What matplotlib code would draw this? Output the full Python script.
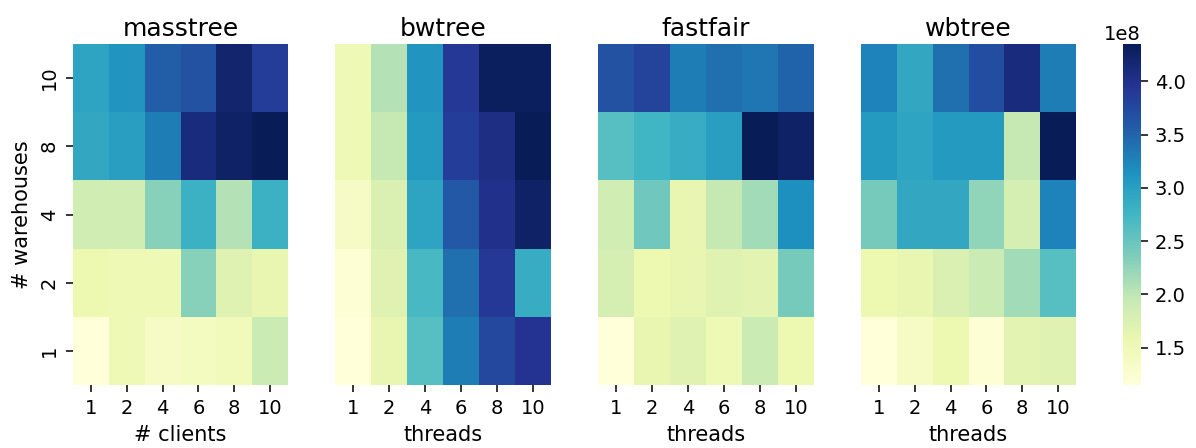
import numpy as np
import matplotlib.pyplot as plt

warehouses = [10, 8, 4, 2, 1]
clients = [1, 2, 4, 6, 8, 10]
titles = ['masstree', 'bwtree', 'fastfair', 'wbtree']
xlabels = ['# clients', 'threads', 'threads', 'threads']

# throughput, rows = warehouses (10, 8, 4, 2, 1), cols = clients/threads
masstree = [[2.95, 3.10, 3.55, 3.65, 4.20, 3.85],
            [2.90, 3.00, 3.30, 4.10, 4.25, 4.35],
            [1.85, 1.85, 2.30, 2.80, 2.05, 2.80],
            [1.55, 1.50, 1.50, 2.30, 1.70, 1.60],
            [1.15, 1.50, 1.35, 1.40, 1.45, 1.90]]
bwtree = [[1.50, 2.05, 3.10, 3.90, 4.30, 4.30],
          [1.50, 1.95, 3.05, 3.85, 4.05, 4.35],
          [1.35, 1.75, 2.95, 3.60, 4.00, 4.25],
          [1.20, 1.70, 2.70, 3.40, 3.90, 2.85],
          [1.15, 1.60, 2.60, 3.30, 3.75, 3.95]]
fastfair = [[3.65, 3.80, 3.30, 3.40, 3.35, 3.50],
            [2.60, 2.75, 2.85, 3.00, 4.35, 4.25],
            [1.85, 2.45, 1.60, 1.95, 2.15, 3.15],
            [1.80, 1.55, 1.60, 1.70, 1.65, 2.40],
            [1.15, 1.60, 1.70, 1.50, 1.90, 1.55]]
wbtree = [[3.25, 2.90, 3.40, 3.70, 4.10, 3.30],
          [3.05, 2.95, 3.05, 3.05, 1.95, 4.35],
          [2.40, 2.90, 2.90, 2.25, 1.80, 3.25],
          [1.55, 1.60, 1.75, 1.90, 2.15, 2.60],
          [1.15, 1.35, 1.55, 1.20, 1.65, 1.70]]

data = [np.array(d) * 1e8 for d in [masstree, bwtree, fastfair, wbtree]]
vmin = min(d.min() for d in data)
vmax = max(d.max() for d in data)

W, H = 1196, 448
fig = plt.figure(figsize=(W / 100, H / 100), dpi=100)

def px_axes(x0, x1, y0, y1):
    return fig.add_axes([x0 / W, 1 - y1 / H, (x1 - x0) / W, (y1 - y0) / H])

lefts = [(73, 288), (335, 551), (598, 814), (861, 1076)]
for i, (l, r) in enumerate(lefts):
    ax = px_axes(l, r, 44, 385)
    mesh = ax.pcolormesh(data[i], cmap='YlGnBu', vmin=vmin, vmax=vmax)
    ax.set_xlim(0, len(clients))
    ax.set_ylim(len(warehouses), 0)
    ax.set_xticks(np.arange(len(clients)) + 0.5)
    ax.set_xticklabels(clients, fontsize=14)
    ax.set_xlabel(xlabels[i], fontsize=15, labelpad=5)
    ax.set_title(titles[i], fontsize=18)
    ax.tick_params(length=5, width=1.1, pad=5)
    for s in ax.spines.values():
        s.set_visible(False)
    if i == 0:
        ax.set_yticks(np.arange(len(warehouses)) + 0.5)
        ax.set_yticklabels(warehouses, fontsize=14, rotation=90, va='center')
        ax.set_ylabel('# warehouses', fontsize=15, labelpad=6)
    else:
        ax.set_yticks([])

cax = px_axes(1123, 1141, 44, 385)
cb = fig.colorbar(mesh, cax=cax)
cb.outline.set_visible(False)
cb.ax.tick_params(labelsize=14, length=5, width=1.1, pad=5)
cb.ax.yaxis.get_offset_text().set_fontsize(14)

fig.savefig('out.png', dpi=100)
